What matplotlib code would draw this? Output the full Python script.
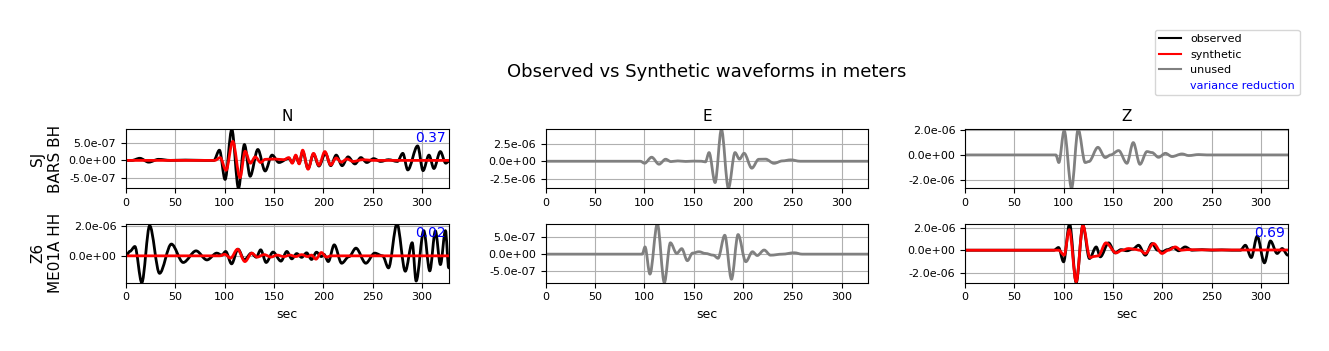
import matplotlib
matplotlib.use("Agg")
import matplotlib.pyplot as plt
from matplotlib.lines import Line2D
from matplotlib.path import Path
from matplotlib.patches import PathPatch
from matplotlib.ticker import FormatStrFormatter

SCALE = 1e-7  # values below are in units of 1e-7 m (peaks / troughs)

components = ["N", "E", "Z"]
stations = ["SJ\nBARS BH", "Z6\nME01A HH"]
xticks = [0, 50, 100, 150, 200, 250, 300]
t_end = 327

# ---------------- Row 1 : SJ BARS BH ----------------
n1_obs_t = [0, 6, 14, 23, 33, 45, 60, 80, 89, 94.7, 100.4, 107.2, 114, 120, 125.8, 133.6, 141, 148,
            155, 165, 168.5, 172, 175.5, 179, 184.5, 190, 195.5, 202, 207.5, 213, 219, 225, 232,
            238, 244, 251, 258, 266, 275, 280.5, 285.5, 295.5, 301, 307, 312, 318.5, 324, 327]
n1_obs_v = [0, 0, 0.6, -0.5, 0.3, 0, 0.1, 0, 0, 2.9, -5.4, 8.8, -7.9, 4.5, -4.5, 3.1, -3.0, 1.5,
            -0.6, 0.6, -0.6, 1.2, -0.8, 2.5, -2.3, 1.8, -1.6, 2.0, -1.5, 1.5, -1.5, 1.0, -1.0,
            0.8, -0.6, 0.5, -0.3, 0.2, -0.3, 2.0, -2.7, 4.1, -2.9, 1.5, -2.3, 2.5, -0.8, -0.3]
n1_syn_t = [0, 90, 95.4, 101.4, 108.2, 115.5, 120.7, 126, 131, 136.5, 141, 150, 160, 165, 168.5,
            172, 175.5, 179, 184.5, 190, 195.5, 201.5, 207.5, 213, 218, 224, 230, 240, 250, 327]
n1_syn_v = [0, 0, 0.8, -2.8, 5.4, -4.9, 2.6, -0.8, 1.0, -0.6, 0.3, 0.4, 0.2, 0.8, -0.8,
            1.5, -1.0, 2.9, -2.5, 2.0, -1.4, 2.5, -1.3, 0.7, -0.5, 0.4, -0.3, 0.2, 0, 0]
e1_unused_t = [0, 96, 100.4, 107.5, 115, 121.7, 127, 134, 142, 150, 158, 162, 165.7, 171.8, 178.2,
               185.3, 192, 196.5, 201.2, 209, 216, 223, 231.5, 240, 248.5, 258, 327]
e1_unused_v = [0, 0, -2.9, 5.8, -4.3, 2.9, -0.5, 0.5, -0.3, 0.2, 0, -1.0, 12.5, -30.8, 46,
               -39, 12.5, 3.0, 11.5, -10, 2.8, 3.0, -3, 0.5, 2, 0, 0]
z1_unused_t = [0, 92, 95, 100.4, 107.9, 114.6, 121.7, 125.5, 134.6, 142, 147.5, 155.6, 164,
               170.4, 177.2, 184.3, 189.4, 196, 203, 209.7, 219.8, 226.6, 236.7, 245, 327]
z1_unused_v = [0, 0, -6.1, 19.5, -26.7, 20.5, -6.1, -5.3, 6.1, -2.1, 0, 3.5, -6.7,
               9.9, -7.5, 2.7, 1.9, -1.9, 1.3, -1.3, 0.8, -0.5, 0.3, 0, 0]

# ---------------- Row 2 : Z6 ME01A HH ----------------
n2_obs_t = [0, 4, 9, 16, 24, 34, 46, 58, 71, 82, 92, 97, 101, 107, 113.5, 120, 127, 132, 136.5,
            142, 149, 157, 163, 168, 173, 178, 183, 188, 193, 198, 200.5, 205, 211, 218.5, 226,
            233, 243, 252, 260, 266, 274.6, 283, 290, 294, 301.7, 307.8, 313.5, 318.6, 323.7, 327]
n2_obs_v = [0, 3, 6.2, -17.8, 20, -11.6, 7.8, -4.4, 3.3, -2.7, 1.8, 0.5, 2.9, -5.3, 4.4, -2.7, 1.8,
            -0.9, 4.0, -4.4, 2.5, -3.5, 2.9, -2.0, 1.5, -1.0, 2.0, -2.4, 2.4, -0.5, 1.0, -3.8, 7.3,
            -4.9, -0.5, 5.1, -4.9, 1.8, 0, -8, 21.3, -10.2, 8.7, -16.7, 16.7, -10, 16.5, -5.8,
            16.7, -8]
n2_syn_t = [0, 95, 100, 106, 113, 120.5, 127.5, 133, 140, 147, 153, 160, 166, 172, 178, 184, 188,
            192.5, 198, 203, 208, 327]
n2_syn_v = [0, 0, 1.0, -1.5, 4.4, -3.8, 1.8, -0.8, 0.8, -0.8, 0.5, -0.5, 0.5, -0.5, 0.8, -0.5, 0.5,
            -2.2, 2.2, -0.8, 0, 0]
e2_unused_t = [0, 98, 100.8, 105.8, 113.3, 120.4, 126.5, 132.9, 138, 143.7, 149, 155.5, 162, 170,
               174.8, 181.6, 188.4, 195.1, 202.9, 209.7, 214.5, 221.5, 228, 240, 252, 260, 327]
e2_unused_v = [0, 0, 2.1, -5.8, 8.85, -8.3, 3.3, 0.2, 1.6, -1.9, 0.3, 0.7, 0.2, -0.3,
               -1.2, 5.5, -7.3, 5.7, -2.2, 0.7, -0.4, 1.2, -0.3, 0, 0.4, 0, 0]
z2_obs_t = [0, 90, 94.7, 99.8, 105.9, 112.6, 119.4, 126, 132.9, 137, 145.4, 152, 158, 164, 170,
            175.8, 182.6, 189.4, 195, 199.5, 205, 211, 216.4, 223, 230, 240, 250, 260, 270, 279,
            284, 290, 296, 303.3, 309.4, 316.2, 321.3, 327]
z2_obs_v = [0, 0, 2.4, -10.3, 23.5, -28.8, 22, -7.4, 2.9, -5.9, 6.5, -2.4, 0.5, -0.5, 1.0,
            4.4, -4.4, 5.9, 0, -1.5, 0.5, 2.4, -0.5, 2.9, 0, 0.5, 0, 0.3, 0, 0,
            4.4, -6.5, 12.4, -11.2, 8.2, -2.9, 1.5, -4.4]
z2_syn_t = [0, 95, 100.4, 105.6, 112.6, 119.4, 126.6, 131, 135, 142.7, 153, 159, 165.7, 172, 177,
            182.6, 191, 199.5, 206, 213, 219, 225, 240, 260, 327]
z2_syn_v = [0, 0, -4.4, 18.2, -27.9, 22, -6.5, -5.5, -5, 6.5, -2.4, 0, 1.5, 0.8, 0,
            -2.9, 5.9, -2.9, 0, 2.9, 0, 0.5, 0.3, 0.2, 0.2]

# variance reductions (None -> unused component)
vr_values = [["0.37", None, None], ["0.02", None, "0.69"]]

panels = [
    [(n1_obs_t, n1_obs_v, n1_syn_t, n1_syn_v), (e1_unused_t, e1_unused_v, None, None),
     (z1_unused_t, z1_unused_v, None, None)],
    [(n2_obs_t, n2_obs_v, n2_syn_t, n2_syn_v), (e2_unused_t, e2_unused_v, None, None),
     (z2_obs_t, z2_obs_v, z2_syn_t, z2_syn_v)],
]
yticks = [
    [[-5, 0, 5], [-25, 0, 25], [-20, 0, 20]],
    [[0, 20], [-5, 0, 5], [-20, 0, 20]],
]


def add_trace(ax, t, v, color, z):
    """Draw the trace through its read-off extrema as a smooth curve (flat tangent at each point)."""
    y = [a * SCALE for a in v]
    verts = [(t[0], y[0])]
    codes = [Path.MOVETO]
    for i in range(1, len(t)):
        dt = t[i] - t[i - 1]
        verts += [(t[i - 1] + dt / 3, y[i - 1]), (t[i] - dt / 3, y[i]), (t[i], y[i])]
        codes += [Path.CURVE4] * 3
    ax.add_patch(PathPatch(Path(verts, codes), facecolor="none", edgecolor=color, lw=2,
                           capstyle="round", joinstyle="round", zorder=z))
    return y


fig, axes = plt.subplots(2, 3, figsize=(13.29, 3.51), dpi=100)
fig.subplots_adjust(left=0.0948, right=0.969, top=0.6316, bottom=0.1946, wspace=0.3, hspace=0.6)

for r in range(2):
    for c in range(3):
        ax = axes[r, c]
        ot, ov, st, sv = panels[r][c]
        vr = vr_values[r][c]
        if vr is None:
            ys = add_trace(ax, ot, ov, "gray", 2)
        else:
            ys = add_trace(ax, ot, ov, "black", 2)
            add_trace(ax, st, sv, "red", 2.1)
            ax.text(0.99, 0.85, vr, transform=ax.transAxes, ha="right", va="center",
                    color="blue", fontsize=10, zorder=3)
        ax.set_xlim(0, t_end)
        ax.set_ylim(min(ys), max(ys))
        ax.set_xticks(xticks)
        ax.set_yticks([v * SCALE for v in yticks[r][c]])
        ax.yaxis.set_major_formatter(FormatStrFormatter("%.1e"))
        ax.tick_params(labelsize=8)
        ax.grid(True)
        if r == 0:
            ax.set_title(components[c], fontsize=11)
        else:
            ax.set_xlabel("sec", fontsize=9)
        if c == 0:
            ax.set_ylabel(stations[r], fontsize=11)

fig.text(0.532, 0.795, "Observed vs Synthetic waveforms in meters", ha="center", va="center",
         fontsize=13)

handles = [Line2D([], [], color="black", lw=1.5), Line2D([], [], color="red", lw=1.5),
           Line2D([], [], color="gray", lw=1.5), Line2D([], [], color="none")]
labels = ["observed", "synthetic", "unused", "variance reduction"]
leg = fig.legend(handles, labels, loc="upper right", bbox_to_anchor=(0.982, 0.931), fontsize=8)
leg.get_texts()[3].set_color("blue")

fig.savefig("out.png", dpi=100)
